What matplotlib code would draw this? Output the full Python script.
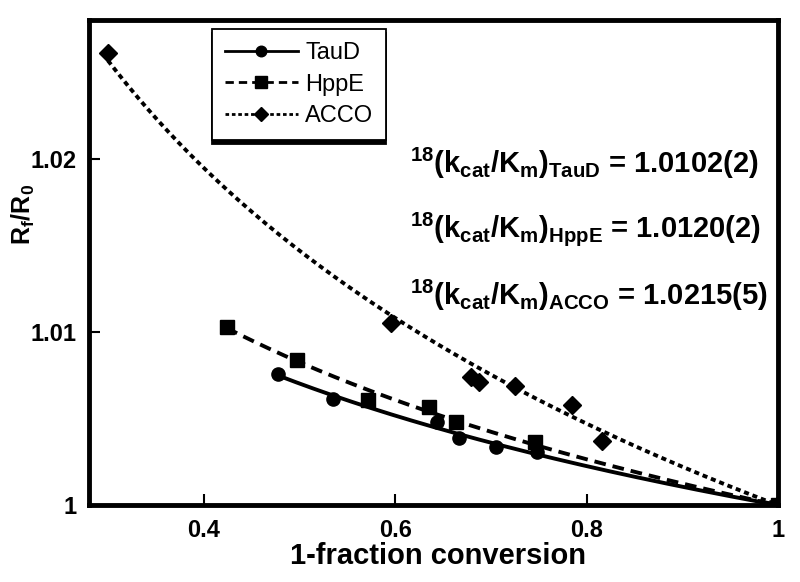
import numpy as np
import matplotlib
matplotlib.use("Agg")
import matplotlib.pyplot as plt

# --- data ---------------------------------------------------------------
taud_x = [0.478, 0.535, 0.644, 0.667, 0.705, 0.748, 1.0]
taud_y = [1.00755, 1.0061, 1.0048, 1.00386, 1.00334, 1.00305, 1.0]

hppe_x = [0.424, 0.498, 0.572, 0.635, 0.664, 0.746, 1.0]
hppe_y = [1.0103, 1.0084, 1.00605, 1.00565, 1.00478, 1.00363, 1.0]

acco_x = [0.300, 0.596, 0.679, 0.688, 0.725, 0.785, 0.816, 1.0]
acco_y = [1.0261, 1.0105, 1.0074, 1.0071, 1.0069, 1.0058, 1.0037, 1.0]

# fitted isotope effects (from the annotations)
kie = {"TauD": 1.0102, "HppE": 1.0120, "ACCO": 1.0215}
kie_text = {"TauD": "1.0102(2)", "HppE": "1.0120(2)", "ACCO": "1.0215(5)"}

xticks = [0.4, 0.6, 0.8, 1.0]
xtick_labels = ["0.4", "0.6", "0.8", "1"]
yticks = [1.0, 1.01, 1.02]
ytick_labels = ["1", "1.01", "1.02"]

plt.rcParams["font.family"] = ["Liberation Sans", "DejaVu Sans"]
plt.rcParams["mathtext.fontset"] = "custom"
plt.rcParams["mathtext.rm"] = "Liberation Sans:bold"
plt.rcParams["mathtext.it"] = "Liberation Sans:bold"
plt.rcParams["mathtext.bf"] = "Liberation Sans:bold"
plt.rcParams["mathtext.default"] = "regular"


def rayleigh(f, k):
    # R/R0 = f^(1/KIE - 1)
    return f ** (1.0 / k - 1.0)


fig = plt.figure(figsize=(8, 5.82), dpi=100)
ax = fig.add_axes([0.111, 0.132, 0.8615, 0.8335])

series = [
    ("TauD", taud_x, taud_y, "-", "o", 9.5),
    ("HppE", hppe_x, hppe_y, (0, (3.0, 1.8)), "s", 10),
    ("ACCO", acco_x, acco_y, (0, (1.3, 1.0)), "D", 9.5),
]
lw = 2.8
for name, xs, ys, ls, mk, ms in series:
    f = np.linspace(min(xs), 1.0, 200)
    ax.plot(f, rayleigh(f, kie[name]), color="k", ls=ls, lw=lw, zorder=2)
    ax.plot(xs, ys, ls="none", marker=mk, ms=ms, color="k", zorder=3)

# legend proxies: line with one marker in the middle
handles = []
for name, xs, ys, ls, mk, ms in series:
    h, = ax.plot([], [], color="k", ls=ls, lw=2.0, marker=mk,
                 ms=ms * 0.8)
    handles.append(h)
leg = ax.legend(handles, [s[0] for s in series], loc="upper left",
                bbox_to_anchor=(0.1785, 0.981), borderaxespad=0,
                fontsize=17, handlelength=3.1, handletextpad=0.3,
                labelspacing=0.4, borderpad=0.55, fancybox=False,
                numpoints=1, edgecolor="k",
                shadow={"color": "k", "alpha": 1, "ox": 0, "oy": -3})
leg.get_frame().set_linewidth(1.3)

# annotations with fitted isotope effects
for name, yy in zip(["TauD", "HppE", "ACCO"], [0.705, 0.569, 0.433]):
    s = (r"$^{18}$(k$_{cat}$/K$_{m}$)$_{" + name + "}$ = " + kie_text[name])
    ax.text(0.466, yy, s, transform=ax.transAxes, fontsize=21,
            fontweight="bold", ha="left", va="center")

ax.set_xlim(0.28, 1.0)
ax.set_ylim(1.0, 1.028)
ax.set_xticks(xticks)
ax.set_xticklabels(xtick_labels, fontsize=17, fontweight="bold")
ax.set_yticks(yticks)
ax.set_yticklabels(ytick_labels, fontsize=17, fontweight="bold")
ax.tick_params(direction="in", length=8, width=1.5)
ax.tick_params(axis="x", pad=10)
ax.tick_params(axis="y", pad=9)
for sp in ax.spines.values():
    sp.set_linewidth(3.5)

ax.set_xlabel("1-fraction conversion", fontsize=21, fontweight="bold")
ax.xaxis.set_label_coords(0.507, -0.075)
ax.set_ylabel(r"R$_{f}$/R$_{0}$", fontsize=18, fontweight="bold")
ax.yaxis.set_label_coords(-0.075, 0.6)

fig.savefig("out.png", dpi=100)
